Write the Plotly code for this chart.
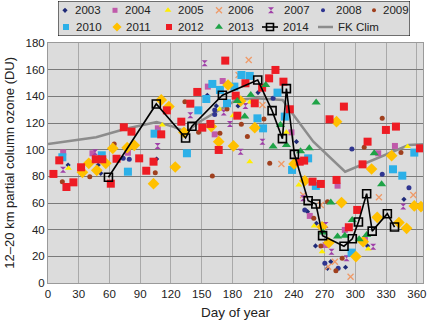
import plotly.graph_objects as go

# ---------------- data ----------------
d2003 = [19.6, 49, 51.5, 106, 155.5, 164.3, 185.5, 205, 242.5, 253.3, 262, 261.1, 272.8, 276, 290.4, 311.9, 347.4]
v2003 = [88.5, 88.5, 82.3, 93, 140.8, 132.8, 132.8, 142.8, 106, 53.5, 44.8, 27.8, 11, 16, 11.8, 27.8, 62.8]

d2004 = [14.8, 43.4, 78, 107.2, 156, 170.5, 162.7, 237.6, 255.5, 270.9, 282.6, 289.7, 309.3, 322.3, 338.6]
v2004 = [98, 97.3, 97.7, 116, 147.3, 151.5, 111.5, 113, 50.3, 28.5, 73, 39.8, 33, 97.3, 102.8]

d2005 = [20, 111.5, 167.6, 180.5, 197, 196.9, 232.7, 244.8, 259.7, 267.5, 312.5, 351]
v2005 = [86, 118.5, 130.3, 125.5, 135.5, 91, 113, 73.5, 42.8, 23.5, 25.5, 102.3]

d2006 = [195.9, 186, 209.3, 227.8, 249, 266.3, 273.4, 280, 295.3, 323, 356.5]
v2006 = [167.3, 156, 133.5, 89.3, 66, 58.5, 12.2, 16, 4.7, 64.3, 66]

d2007 = [14.7, 46, 107, 138.9, 152.9, 171.5, 177.6, 192.7, 188, 209.3, 249, 270.9, 276.7, 291.4, 317.4, 346.7]
v2007 = [85, 98, 102.8, 125.8, 164.8, 127.8, 119.3, 132.8, 98.5, 106, 63.5, 43.5, 23.5, 18.5, 27.2, 57.3]

d2008 = [73.4, 79.3, 162.7, 162.7, 219.7, 250.6, 270.2, 283.2, 296.6, 326.2, 352.3]
v2008 = [93.5, 92.8, 129.8, 126.3, 138.5, 54.8, 14.8, 11, 100.5, 81.5, 71.5]

d2009 = [14, 40.8, 64.6, 104.7, 133.6, 147, 160.4, 167.8, 174.7, 188.7, 194.6, 210.8, 216.4, 259.4, 266.3, 272.8, 281, 287.1, 308.6, 326.2, 344.5]
v2009 = [76, 79.7, 104.3, 82.7, 136, 113, 80.3, 112.3, 130.5, 119, 109.8, 123, 89.8, 48.5, 27.8, 61, 9.2, 18.5, 101.8, 123.5, 97.8]

d2010 = [14, 52.5, 78, 104, 135.6, 146.7, 154.5, 160.4, 167.8, 174.7, 181.9, 188.8, 196.9, 204.4, 209.9, 224, 231.1, 238.2, 253.9, 261.4, 296.3, 336.7, 345.8, 357.5]
v2010 = [94.3, 95.8, 83.5, 112, 97.3, 129.5, 138, 149.3, 144.8, 134.8, 147.3, 156, 155.3, 123.5, 116, 142.8, 124.8, 84.8, 93.5, 72.8, 22.8, 85.3, 80.5, 97.8]

d2011 = [33.6, 39.8, 47.6, 56.4, 63.2, 77.3, 84.2, 103, 110.5, 118, 124.2, 132.7, 159.4, 166.6, 175.7, 181, 188, 201.8, 240.2, 250.6, 267.5, 274.1, 281.6, 286.5, 300.5, 307.6, 315.8, 321.3, 335.4, 342.5, 350, 357.5, 364]
v2011 = [83, 89.8, 84.5, 89.8, 101, 101.5, 103.3, 74.5, 137.3, 132.3, 87, 113, 117.3, 106, 148.5, 102.8, 136.5, 116.5, 89.3, 76.7, 42.2, 30.2, 121, 60.3, 19.8, 31, 85.5, 49.3, 95.5, 45.3, 41, 57.8, 57.3]

d2012 = [5.3, 11, 18, 24.8, 32.3, 46.6, 53, 61.3, 66.9, 74, 81.5, 89, 95.9, 103, 110.5, 116, 130.1, 138.9, 145.7, 150.6, 158.5, 166.6, 173, 183.2, 184.8, 192.7, 201.8, 209, 215.8, 222, 229.8, 236, 245.7, 250, 258.2, 266.3, 274.8, 281.6, 288.8, 293.6, 301.8, 307, 311.9, 329.8, 339.6, 363]
v2012 = [81.8, 92, 72, 75.5, 86.8, 92.8, 92.8, 74.5, 93.2, 116.8, 113.5, 93.5, 84.2, 91, 111.5, 129.5, 121, 134.5, 143.3, 116.5, 119.3, 99.8, 166.8, 140.5, 125.5, 149.8, 134.8, 146.5, 153.5, 159.8, 151, 130.3, 91, 91.8, 76, 74.3, 122.8, 77.3, 132.3, 41.8, 54.8, 89, 106, 114.8, 117.3, 101]

d2013 = [184.8, 192, 197.9, 212.5, 219.7, 226.9, 232.7, 246.5, 255, 261.7, 268.5, 276, 282.6, 289.7, 296.9, 303.7, 311, 318.4, 325.6]
v2013 = [136.5, 124.8, 141, 148.5, 102.3, 118.5, 103.5, 98.8, 101, 135.3, 37.8, 60.3, 34.8, 35.5, 47.3, 32.8, 36, 97.3, 74]

d2014 = [59, 105.7, 134.3, 140.5, 170.2, 204.7, 218.7, 228.8, 232.7, 240.5, 253.9, 261.4, 268, 288.9, 297, 303, 311, 316.4, 331.2, 338.2]
v2014 = [79.3, 134.3, 108.8, 117.6, 140.8, 152.3, 129.3, 108.3, 145.8, 96.5, 61.7, 59.3, 35.5, 27.6, 33.2, 45.8, 67, 38.9, 52, 42]

dclim = [0, 30, 47, 76, 106, 122, 135, 148, 184, 203, 229, 236, 259, 290, 352, 366]
vclim = [104.3, 107.8, 109.3, 115.7, 120.8, 117.3, 113.3, 121, 137.3, 138.5, 137.3, 129.8, 106, 83.5, 103.5, 104]

x_ticks = list(range(0, 361, 30))
y_ticks = list(range(0, 181, 20))

# ---------------- styles ----------------
years = ["2003", "2004", "2005", "2006", "2007", "2008", "2009",
         "2010", "2011", "2012", "2013"]
series = {
    "2003": (d2003, v2003), "2004": (d2004, v2004), "2005": (d2005, v2005),
    "2006": (d2006, v2006), "2007": (d2007, v2007), "2008": (d2008, v2008),
    "2009": (d2009, v2009), "2010": (d2010, v2010), "2011": (d2011, v2011),
    "2012": (d2012, v2012), "2013": (d2013, v2013),
}
style = {
    "2003": dict(symbol="diamond", color="#1f2a78", size=4),
    "2004": dict(symbol="square", color="#c05aaa", size=6),
    "2005": dict(symbol="triangle-up", color="#ffee00", size=6),
    "2006": dict(symbol="x-thin", color="#ef9a68", size=6, line=dict(width=1.3, color="#ef9a68")),
    "2007": dict(symbol="hourglass", color="#a040a8", size=6),
    "2008": dict(symbol="circle", color="#2f3590", size=5),
    "2009": dict(symbol="circle", color="#a0401e", size=5),
    "2010": dict(symbol="square", color="#2cb0e8", size=8),
    "2011": dict(symbol="diamond", color="#ffc000", size=9),
    "2012": dict(symbol="square", color="#ee1c24", size=8),
    "2013": dict(symbol="triangle-up", color="#1fa347", size=8),
}
legend_size = {"2003": 4, "2004": 5, "2005": 6, "2006": 6, "2007": 6, "2008": 4,
               "2009": 4, "2010": 6, "2011": 7, "2012": 6, "2013": 7}
m2014 = dict(symbol="square-open", size=8, color="black", line=dict(width=1.6))
l2014 = dict(color="black", width=1.6)
lclim = dict(color="#8c8c8c", width=2.5)

# legend layout (box coordinates in px, origin lower-left of the box)
leg_w, leg_h = 352, 35
leg_sym_x = [7, 57, 110, 161, 213, 265, 316, 8, 59, 111, 161]
leg_txt_x = [15, 65, 118, 168, 224, 276, 323, 16, 66, 118, 168]
leg_row_y = [25.7, 9]

# ---------------- figure ----------------
fig = go.Figure()

fig.add_trace(go.Scatter(x=dclim, y=vclim, mode="lines", name="FK Clim",
                         line=lclim, showlegend=False))
for yr in years:
    d, v = series[yr]
    fig.add_trace(go.Scatter(x=d, y=v, mode="markers", name=yr,
                             marker=style[yr], showlegend=False))
fig.add_trace(go.Scatter(x=d2014, y=v2014, mode="lines+markers", name="2014",
                         line=l2014, marker=m2014, showlegend=False))

# custom legend drawn on its own small axes above the plot
annotations = []
for i, yr in enumerate(years):
    row = 0 if i < 7 else 1
    lm = dict(style[yr])
    lm["size"] = legend_size[yr]
    fig.add_trace(go.Scatter(x=[leg_sym_x[i]], y=[leg_row_y[row]], mode="markers",
                             marker=lm, xaxis="x2", yaxis="y2",
                             showlegend=False, hoverinfo="skip"))
    annotations.append(dict(x=leg_txt_x[i], y=leg_row_y[row], xref="x2", yref="y2",
                            text=yr, showarrow=False, xanchor="left", yanchor="middle",
                            font=dict(size=11.5)))
fig.add_trace(go.Scatter(x=[204, 212, 220], y=[leg_row_y[1]] * 3, mode="lines",
                         line=l2014, xaxis="x2", yaxis="y2", showlegend=False,
                         hoverinfo="skip"))
fig.add_trace(go.Scatter(x=[212], y=[leg_row_y[1]], mode="markers",
                         marker=dict(m2014, size=7),
                         xaxis="x2", yaxis="y2", showlegend=False, hoverinfo="skip"))
fig.add_trace(go.Scatter(x=[260, 275], y=[leg_row_y[1]] * 2, mode="lines",
                         line=lclim, xaxis="x2", yaxis="y2", showlegend=False,
                         hoverinfo="skip"))
annotations.append(dict(x=223, y=leg_row_y[1], xref="x2", yref="y2", text="2014",
                        showarrow=False, xanchor="left", yanchor="middle",
                        font=dict(size=11.5)))
annotations.append(dict(x=278, y=leg_row_y[1], xref="x2", yref="y2", text="FK Clim",
                        showarrow=False, xanchor="left", yanchor="middle",
                        font=dict(size=11.5)))

# axis titles
annotations.append(dict(x=0.501, y=-0.106, xref="paper", yref="paper",
                        text="Day of year", showarrow=False,
                        xanchor="center", yanchor="middle", font=dict(size=13.5)))
annotations.append(dict(x=-0.105, y=0.848 / 2, xref="paper", yref="paper",
                        text="12–20 km partial column ozone (DU)", showarrow=False,
                        textangle=-90, xanchor="center", yanchor="middle",
                        font=dict(size=13)))

fig.update_layout(
    width=432, height=324,
    margin=dict(l=48, r=9, t=0, b=41),
    paper_bgcolor="white",
    plot_bgcolor="#dcdcdc",
    font=dict(family="Liberation Sans, Arial, sans-serif", size=11, color="#222"),
    showlegend=False,
    annotations=annotations,
    shapes=[dict(type="rect", xref="x2", yref="y2", x0=0, x1=leg_w, y0=0, y1=leg_h,
                 line=dict(color="black", width=1), fillcolor="rgba(0,0,0,0)",
                 layer="below")],
    xaxis=dict(
        domain=[0, 1], range=[0, 366], tickvals=x_ticks, ticks="", showgrid=True,
        gridcolor="#a9a9a9", gridwidth=1, zeroline=False,
        showline=True, linecolor="#9a9a9a", mirror=True, automargin=False,
        tickfont=dict(size=11.5),
    ),
    yaxis=dict(
        domain=[0, 0.848], range=[0, 180], tickvals=y_ticks, ticks="", showgrid=True,
        gridcolor="#7a7a7a", gridwidth=1, zeroline=False,
        showline=True, linecolor="#9a9a9a", mirror=True, automargin=False,
        tickfont=dict(size=11.5),
    ),
    xaxis2=dict(domain=[10 / 375, 362 / 375], range=[0, leg_w], visible=False,
                anchor="y2", fixedrange=True),
    yaxis2=dict(domain=[(283 - 36) / 283, (283 - 1) / 283], range=[0, leg_h],
                visible=False, anchor="x2", fixedrange=True),
)

fig.write_html("out.html", config={"displayModeBar": False},
               post_script="document.body.style.margin='0';document.body.style.padding='0';")
